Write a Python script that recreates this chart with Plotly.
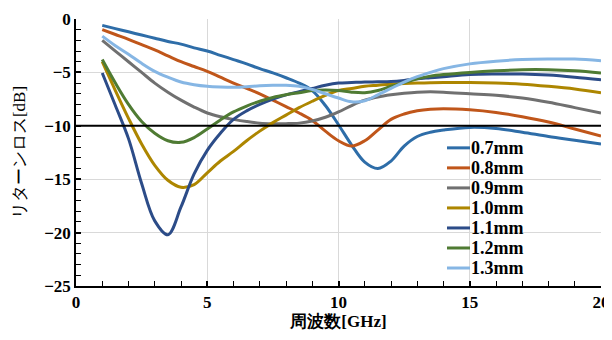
import plotly.graph_objects as go

freq = [1, 1.5, 2, 2.5, 3, 3.5, 4, 4.5, 5, 5.5, 6, 6.5, 7, 7.5, 8, 8.5, 9, 9.5, 10, 10.5,
        11, 11.5, 12, 12.5, 13, 13.5, 14, 15, 16, 17, 18, 19, 20]

rl_07 = [-0.6, -0.9, -1.2, -1.5, -1.8, -2.1, -2.35, -2.7, -3.0, -3.4, -3.8, -4.2, -4.65, -5.05, -5.5, -6.0, -6.7, -8.1, -9.9, -11.8,
         -13.4, -14.0, -13.3, -11.9, -11.0, -10.6, -10.4, -10.15, -10.25, -10.6, -11.0, -11.35, -11.7]
rl_08 = [-1.0, -1.45, -1.9, -2.4, -2.9, -3.45, -4.0, -4.45, -4.9, -5.45, -6.0, -6.5, -7.0, -7.6, -8.2, -8.8, -9.5, -10.5, -11.4, -11.9,
         -11.4, -10.4, -9.4, -8.9, -8.6, -8.45, -8.4, -8.5, -8.75, -9.15, -9.65, -10.3, -10.95]
rl_09 = [-2.0, -3.0, -4.0, -5.0, -6.0, -6.85, -7.6, -8.25, -8.8, -9.15, -9.4, -9.6, -9.75, -9.8, -9.8, -9.75, -9.55, -9.2, -8.7, -8.1,
         -7.6, -7.3, -7.1, -6.95, -6.85, -6.82, -6.85, -7.0, -7.15, -7.4, -7.8, -8.3, -8.8]
rl_10 = [-4.0, -6.7, -9.3, -11.7, -13.7, -15.1, -15.75, -15.5, -14.4, -13.3, -12.4, -11.4, -10.5, -9.7, -9.0, -8.3, -7.7, -7.15, -6.7, -6.5,
         -6.3, -6.2, -6.1, -6.05, -6.0, -5.97, -5.95, -5.95, -6.0, -6.1, -6.3, -6.55, -6.9]
rl_11 = [-5.06, -8.1, -11.2, -15.4, -18.9, -20.2, -17.6, -14.5, -12.3, -10.7, -9.4, -8.6, -8.0, -7.5, -7.1, -6.8, -6.5, -6.2, -6.0, -5.95,
         -5.9, -5.88, -5.85, -5.75, -5.6, -5.5, -5.4, -5.2, -5.15, -5.15, -5.25, -5.45, -5.7]
rl_12 = [-3.8, -6.0, -8.0, -9.6, -10.7, -11.4, -11.55, -11.1, -10.3, -9.45, -8.7, -8.15, -7.7, -7.35, -7.1, -6.9, -6.7, -6.65, -6.7, -6.85,
         -6.9, -6.7, -6.3, -5.95, -5.6, -5.35, -5.2, -5.0, -4.85, -4.75, -4.75, -4.85, -5.05]
rl_13 = [-1.6, -2.5, -3.3, -4.15, -4.9, -5.45, -5.9, -6.15, -6.3, -6.37, -6.4, -6.35, -6.25, -6.2, -6.2, -6.3, -6.6, -7.0, -7.4, -7.75,
         -7.65, -7.1, -6.5, -5.9, -5.4, -5.0, -4.65, -4.2, -3.95, -3.8, -3.75, -3.75, -3.9]

series_names = ["0.7mm", "0.8mm", "0.9mm", "1.0mm", "1.1mm", "1.2mm", "1.3mm"]
series_values = [rl_07, rl_08, rl_09, rl_10, rl_11, rl_12, rl_13]
series_colors = ["#2E6DA8", "#C0561A", "#707070", "#AD8600", "#2C4C88", "#4F7B33", "#86B6E4"]

threshold = -10

SERIF = "Times New Roman"
fig = go.Figure()
for name, vals, col in zip(series_names, series_values, series_colors):
    fig.add_trace(go.Scatter(x=freq, y=vals, name=name, mode="lines", showlegend=False,
                             line=dict(color=col, width=3, shape="spline", smoothing=1.0)))

fig.add_shape(type="line", xref="paper", yref="y", x0=0, x1=1, y0=threshold, y1=threshold,
              line=dict(color="black", width=2), layer="above")

# legend (key lines + labels, compact spacing like the reference)
leg_x0, leg_x1, leg_tx = 0.7067, 0.7505, 0.7505
leg_top, leg_step = 0.5174, 0.075
for i, (name, col) in enumerate(zip(series_names, series_colors)):
    yy = leg_top - i * leg_step
    fig.add_shape(type="line", xref="paper", yref="paper", x0=leg_x0, x1=leg_x1, y0=yy, y1=yy,
                  line=dict(color=col, width=3))
    fig.add_annotation(xref="paper", yref="paper", x=leg_tx, y=yy, text="<b>%s</b>" % name, showarrow=False,
                       xanchor="left", yanchor="middle", xshift=-1,
                       font=dict(family=SERIF, size=18, color="black"))

tickfont = dict(family=SERIF, size=17, color="black", weight="bold")

fig.update_layout(
    width=604, height=332,
    margin=dict(l=68, r=11, t=11, b=54),
    paper_bgcolor="white", plot_bgcolor="white",
    showlegend=False,
    font=dict(family=SERIF),
    xaxis=dict(range=[0, 20], dtick=5, tick0=0, showgrid=True, gridcolor="#D9D9D9", gridwidth=1,
               showline=True, linecolor="black", linewidth=1.5, zeroline=False, automargin=False,
               ticks="inside", ticklen=5, tickcolor="black", tickwidth=1.5,
               minor=dict(dtick=1, ticks="inside", ticklen=5, tickcolor="black", tickwidth=1, showgrid=False),
               tickfont=tickfont,
               title=dict(text="<b>周波数[GHz]</b>", standoff=2,
                          font=dict(family=SERIF, size=17, color="black"))),
    yaxis=dict(range=[-25, 0], dtick=5, tick0=0, showgrid=True, gridcolor="#D9D9D9", gridwidth=1,
               showline=True, linecolor="black", linewidth=1.5, zeroline=False, automargin=False,
               ticks="inside", ticklen=5, tickcolor="black", tickwidth=1.5,
               minor=dict(dtick=1, ticks="inside", ticklen=5, tickcolor="black", tickwidth=1, showgrid=False),
               tickfont=tickfont,
               title=dict(text="リターンロス[dB]", standoff=14,
                          font=dict(family=SERIF, size=17, color="black"))),
)

fig.write_html("out.html")
